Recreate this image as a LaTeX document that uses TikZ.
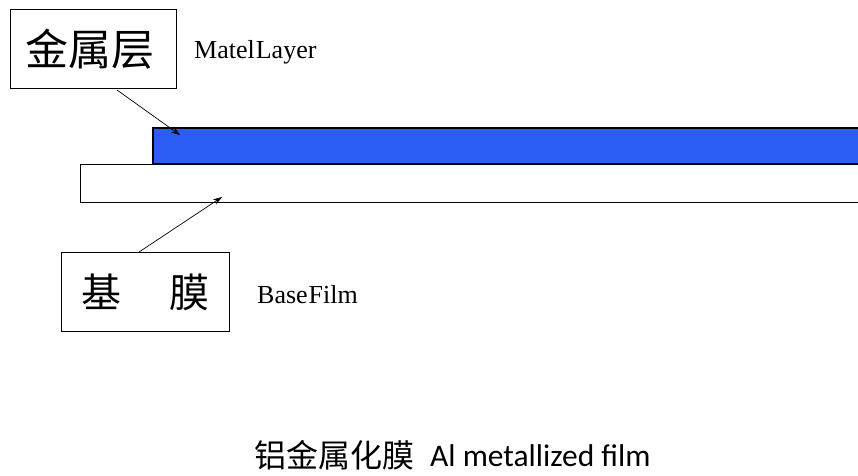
\documentclass[tikz,border=0pt]{standalone}
\usepackage{fontspec}
\setmainfont{Liberation Serif}
\newfontfamily\cjk{Noto Sans CJK SC}
\newfontfamily\capfont{Carlito}
\definecolor{metalblue}{RGB}{43,93,245}
\tikzset{
  labelbox/.style={draw=black, line width=0.9pt, fill=white, inner sep=0pt},
  pointer/.style={-{Stealth[length=9pt,width=6pt]}, line width=0.7pt},
  layertext/.style={anchor=west, font=\fontsize{26}{28}\selectfont, inner sep=0pt}
}
\usetikzlibrary{arrows.meta}
\begin{document}
\begin{tikzpicture}[x=1pt,y=-1pt]
\useasboundingbox (0,0) rectangle (858,475);
% layers
\fill[metalblue] (153,128) rectangle (870,164);
\draw[line width=1.1pt] (870,128) -- (153,128) -- (153,164) -- (870,164);
\draw[line width=0.9pt] (870,164) -- (80,164) -- (80,202) -- (870,202);
% boxes
\node[labelbox, minimum width=166pt, minimum height=79pt] (mbox) at (93,48.5) {};
\node[font=\cjk\fontsize{43}{43}\selectfont, inner sep=0pt] (mtext) at (90,49) {金属层};
\node[layertext] (mlabel) at (194,52) {Matel\hspace{1pt}Layer};
\node[labelbox, minimum width=168pt, minimum height=79pt] (bbox) at (145,292) {};
\node[font=\cjk\fontsize{40}{40}\selectfont, inner sep=0pt] (btext) at (bbox.center) {基\hspace{48pt}膜};
\node[layertext] (blabel) at (257,295) {Base\hspace{1pt}Film};
% arrows
\coordinate (mtip) at (180,135);
\coordinate (btip) at (222,197);
\draw[pointer] (117,90) -- (mtip);
\draw[pointer] (139,252) -- (btip);
% caption
\node[anchor=west, inner sep=0pt] (capcjk) at (254,455) {\cjk\fontsize{32}{34}\selectfont 铝金属化膜};
\node[anchor=west, inner sep=0pt] (caplat) at (430,456) {\capfont\fontsize{31.5}{34}\selectfont Al metallized film};
\end{tikzpicture}
\end{document}
